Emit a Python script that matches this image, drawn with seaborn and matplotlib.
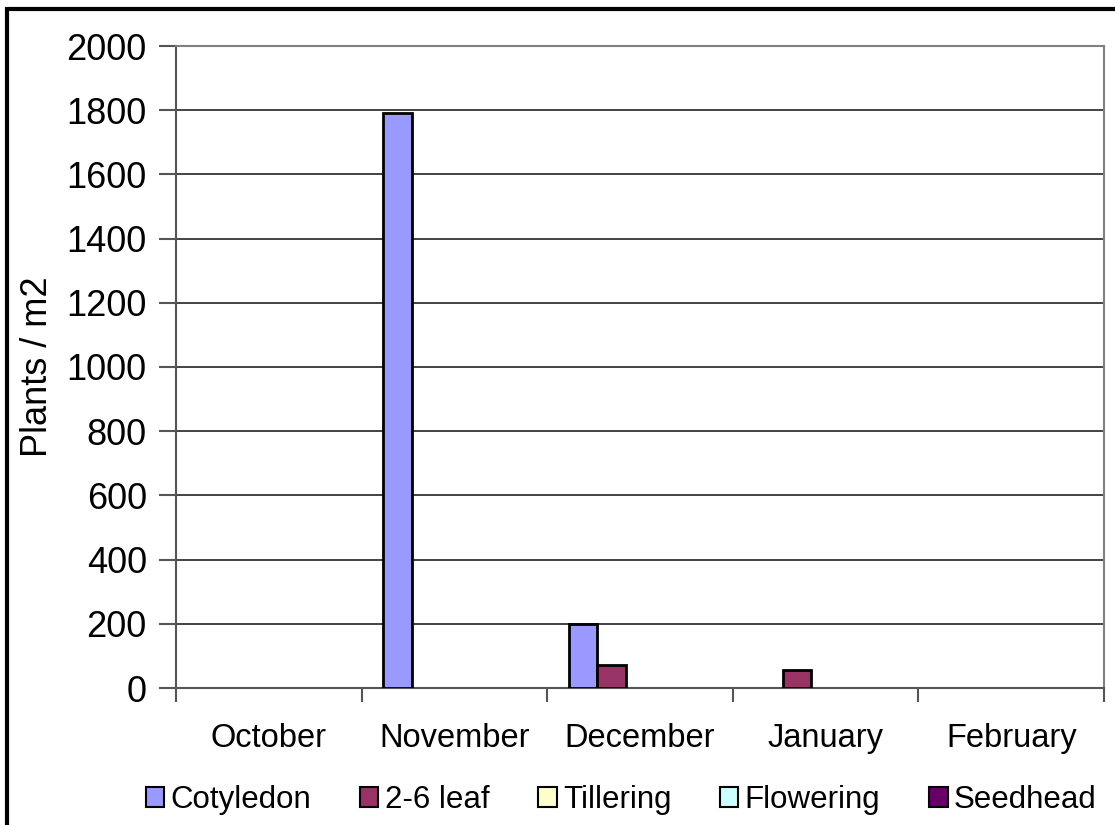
import pandas as pd
import matplotlib
matplotlib.use('Agg')
import matplotlib.pyplot as plt
import seaborn as sns
from matplotlib.patches import Rectangle, Patch

# Data
months = ['October', 'November', 'December', 'January', 'February']
stages = ['Cotyledon', '2-6 leaf', 'Tillering', 'Flowering', 'Seedhead']
cotyledon = [0, 1790, 200, 0, 0]
leaf_2_6 = [0, 0, 73, 55, 0]
tillering = [0, 0, 0, 0, 0]
flowering = [0, 0, 0, 0, 0]
seedhead = [0, 0, 0, 0, 0]
colors = ['#9999FF', '#993366', '#FFFFCC', '#CCFFFF', '#660066']

series = [cotyledon, leaf_2_6, tillering, flowering, seedhead]
rows = []
for stage, vals in zip(stages, series):
    for m, v in zip(months, vals):
        rows.append({'Month': m, 'Stage': stage, 'Plants': v})
df = pd.DataFrame(rows)

sns.set_style('white')
plt.rcParams['font.family'] = ['Liberation Sans', 'DejaVu Sans']
plt.rcParams['text.color'] = 'black'
plt.rcParams['xtick.labelcolor'] = 'black'
plt.rcParams['ytick.labelcolor'] = 'black'
plt.rcParams['axes.labelcolor'] = 'black'

fig = plt.figure(figsize=(11.15, 8.25), dpi=100)
ax = fig.add_axes([176 / 1115, 1 - 688 / 825, (1104 - 176) / 1115, (688 - 46) / 825])

sns.barplot(data=df, x='Month', y='Plants', hue='Stage', order=months,
            hue_order=stages, palette=colors, width=5 / 6.5, saturation=1,
            edgecolor='black', linewidth=2, legend=False, ax=ax, zorder=3)

# Excel does not draw an outline for empty bars
for p in ax.patches:
    if p.get_height() == 0:
        p.set_linewidth(0)

ax.set_ylim(0, 2000)
ax.set_xlim(-0.5, 4.5)
ax.set_yticks(range(0, 2001, 200))
ax.yaxis.grid(True, color='#222222', linewidth=1.2, zorder=0)
ax.set_axisbelow(True)
ax.tick_params(axis='y', labelsize=26, length=12, width=1.5, color='#555555', pad=9, left=True)
ax.tick_params(axis='x', which='major', labelsize=23.5, length=0, pad=25)
ax.set_xticks([i - 0.5 for i in range(6)], minor=True)
ax.tick_params(axis='x', which='minor', length=10, width=1.5, color='#555555', bottom=True)
ax.set_xlabel('')
ax.set_ylabel('Plants / m2', fontsize=26, labelpad=8)

for side in ['left', 'bottom', 'right', 'top']:
    ax.spines[side].set_visible(True)
    ax.spines[side].set_color('#808080')
    ax.spines[side].set_linewidth(1.5)
ax.spines['left'].set_color('#555555')
ax.spines['bottom'].set_color('#555555')

handles = [Patch(facecolor=c, edgecolor='black', linewidth=1.5) for c in colors]
fig.legend(handles, stages, loc='center', bbox_to_anchor=(621 / 1115, 1 - 800 / 825),
           ncol=5, frameon=False, fontsize=22.5, handlelength=0.6, handleheight=0.6,
           handletextpad=0.2, columnspacing=1.55, borderpad=0)

fig.patches.append(Rectangle((7 / 1115, -0.1), 1.2, 1 - 9 / 825 + 0.1,
                             transform=fig.transFigure, fill=False,
                             edgecolor='black', linewidth=3))

fig.savefig('out.png', dpi=100)
plt.close(fig)
